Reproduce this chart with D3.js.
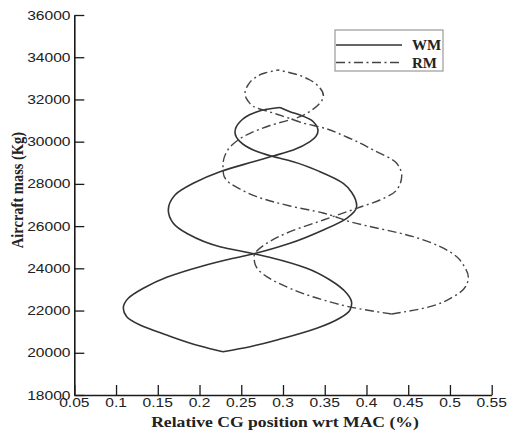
<!DOCTYPE html>
<html><head><meta charset="utf-8">
<script src="https://cdn.jsdelivr.net/npm/d3@7"></script>
<style>html,body{margin:0;padding:0;background:#fff;} svg{display:block}</style>
</head><body><svg id="c" width="507" height="434"></svg>
<script>
// Tick labels
const xTicks = [0.05,0.1,0.15,0.2,0.25,0.3,0.35,0.4,0.45,0.5,0.55];
const yTicks = [18000,20000,22000,24000,26000,28000,30000,32000,34000,36000];

// WM — branch starting towards the left (front) from OEW
const wmA_cg   = [0.228,0.2006,0.1607,0.1287,0.1128,0.1087,0.1147,0.1327,0.1607,0.2006,0.2405,0.265,0.3084,0.3483,0.3763,0.3883,0.3827,0.3722,0.3443,0.3123,0.2868,0.2644,0.2485,0.2425,0.2485,0.2644,0.2805,0.2964];
const wmA_mass = [20050,20321,20842,21316,21709,22107,22581,23054,23575,24078,24475,24690,25186,25816,26370,26953,27568,28028,28578,29051,29307,29605,29999,30458,30946,31344,31533,31618];
// WM — branch starting towards the right
const wmB_cg   = [0.228,0.2605,0.3004,0.3404,0.3683,0.3802,0.3823,0.3763,0.3563,0.3284,0.2884,0.265,0.2245,0.1846,0.1686,0.1626,0.1706,0.1925,0.2245,0.2644,0.2868,0.3123,0.3323,0.3419,0.3363,0.3204,0.3084,0.2964];
const wmB_mass = [20050,20288,20686,21160,21647,22026,22344,22818,23447,24002,24475,24690,25025,25660,26133,26763,27474,28028,28578,29051,29307,29605,29999,30505,30946,31263,31420,31618];

// RM — branch starting towards the left
const rmA_cg   = [0.4302,0.3883,0.3483,0.3084,0.2805,0.2665,0.2653,0.2805,0.3084,0.3483,0.3883,0.4162,0.4362,0.4422,0.4362,0.4082,0.3763,0.3443,0.3284,0.3048,0.2844,0.2685,0.2581,0.2545,0.2581,0.2644,0.2784,0.2940];
const rmA_mass = [21837,22107,22500,23054,23604,24205,24551,25186,25735,26289,26844,27237,27711,28374,28976,29605,30221,30695,30837,31145,31405,31595,31926,32291,32684,32968,33253,33395];
// RM — branch starting towards the right
const rmB_cg   = [0.4302,0.4681,0.5040,0.5192,0.5220,0.5168,0.5081,0.4561,0.3803,0.3479,0.3084,0.2685,0.2485,0.2365,0.2287,0.2281,0.2317,0.2389,0.2605,0.2844,0.3204,0.3347,0.3443,0.3485,0.3443,0.3323,0.3144,0.2940];
const rmB_mass = [21837,22107,22657,23163,23590,24111,24551,25499,26209,26621,26953,27393,27758,28028,28468,28895,29463,29842,30397,30766,31183,31500,31832,32163,32542,32921,33205,33395];

const seriesNames = ["WM","RM"];

const svg = d3.select("#c");
const x = d3.scaleLinear().domain([0.05,0.55]).range([74.3,491.7]);
const y = d3.scaleLinear().domain([18000,36000]).range([395,15]);
const SX = 1.2; // horizontal text stretch seen in the reference

const axisCol = "#1a1a1a";

// minor ticks
const xMinor = d3.range(0.05,0.5501,0.01).map(v=>+v.toFixed(2));
const yMinor = d3.range(18000,36001,400);

const gx = svg.append("g").attr("transform","translate(0,395)");
gx.call(d3.axisBottom(x).tickValues(xMinor).tickSize(-5).tickSizeOuter(0).tickFormat(""));
gx.call(d3.axisBottom(x).tickValues(xTicks).tickSize(-10).tickSizeOuter(0).tickFormat(""));
const gy = svg.append("g").attr("transform","translate(74.3,0)");
gy.call(d3.axisLeft(y).tickValues(yMinor).tickSize(-5).tickSizeOuter(0).tickFormat(""));
gy.call(d3.axisLeft(y).tickValues(yTicks).tickSize(-10).tickSizeOuter(0).tickFormat(""));
svg.selectAll(".domain").attr("stroke",axisCol).attr("stroke-width",1.6);
svg.selectAll(".tick line").attr("stroke",axisCol).attr("stroke-width",1.3);

// tick labels
const tickFont = "'Liberation Sans', Arial, sans-serif";
svg.append("g").selectAll("g").data(xTicks).join("g")
  .attr("transform",d=>`translate(${x(d)},${407}) scale(${SX},1)`)
  .append("text").attr("text-anchor","middle")
  .attr("font-family",tickFont).attr("font-size",13).attr("fill","#222")
  .text(d=>String(+d.toFixed(2)));
svg.append("g").selectAll("g").data(yTicks).join("g")
  .attr("transform",d=>`translate(${70.5},${y(d)+4.6}) scale(${SX},1)`)
  .append("text").attr("text-anchor","end")
  .attr("font-family",tickFont).attr("font-size",13).attr("fill","#222")
  .text(d=>String(d));

// axis titles
const titleFont = "'Liberation Serif','Times New Roman',serif";
svg.append("g").attr("transform",`translate(285,427) scale(${SX},1)`)
  .append("text").attr("text-anchor","middle").attr("font-family",titleFont)
  .attr("font-weight","bold").attr("font-size",14.7).attr("fill","#222")
  .text("Relative CG position wrt MAC (%)");
svg.append("g").attr("transform",`translate(23,190) scale(${SX},1) rotate(-90)`)
  .append("text").attr("text-anchor","middle").attr("font-family",titleFont)
  .attr("font-weight","bold").attr("font-size",14.5).attr("fill","#222")
  .text("Aircraft mass (Kg)");

// curves (each branch is monotone in mass)
const line = d3.line().x(d=>x(d[0])).y(d=>y(d[1])).curve(d3.curveMonotoneY);
const zip = (a,b)=>a.map((v,i)=>[v,b[i]]);
const styles = {
  WM:{stroke:"#333", width:1.6, dash:null},
  RM:{stroke:"#444", width:1.4, dash:"9,3.5,2,3.5"}
};
const branches = [
  {name:"WM", pts:zip(wmA_cg,wmA_mass)},
  {name:"WM", pts:zip(wmB_cg,wmB_mass)},
  {name:"RM", pts:zip(rmA_cg,rmA_mass)},
  {name:"RM", pts:zip(rmB_cg,rmB_mass)}
];
svg.append("g").selectAll("path").data(branches).join("path")
  .attr("d",d=>line(d.pts)).attr("fill","none")
  .attr("stroke",d=>styles[d.name].stroke)
  .attr("stroke-width",d=>styles[d.name].width)
  .attr("stroke-dasharray",d=>styles[d.name].dash)
  .attr("stroke-linejoin","round");

// legend
const lg = svg.append("g");
lg.append("rect").attr("x",335).attr("y",30).attr("width",108).attr("height",41)
  .attr("fill","#fff").attr("stroke","#999").attr("stroke-width",1.2);
seriesNames.forEach((n,i)=>{
  const yy = 45 + i*17.5;
  lg.append("line").attr("x1",336).attr("x2",402).attr("y1",yy).attr("y2",yy)
    .attr("stroke",styles[n].stroke).attr("stroke-width",styles[n].width)
    .attr("stroke-dasharray",styles[n].dash);
  lg.append("text").attr("x",412).attr("y",yy+5.3).attr("font-family",titleFont)
    .attr("font-weight","bold").attr("font-size",15).attr("fill","#222").text(n);
});
</script></body></html>
